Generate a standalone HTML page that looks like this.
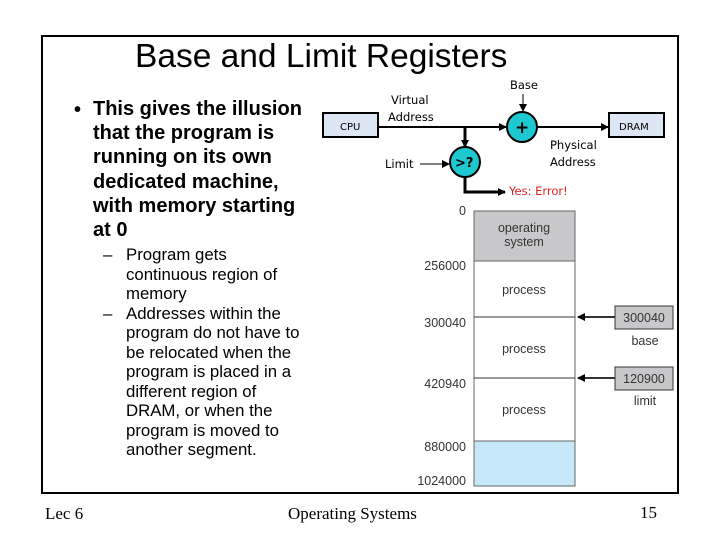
<!DOCTYPE html>
<html><head><style>
body{margin:0;width:720px;height:540px;background:#fff;position:relative;overflow:hidden;font-family:"Liberation Sans",sans-serif}
.a{position:absolute;white-space:nowrap}
</style></head><body>
<div class="a" style="left:41px;top:35px;width:634px;height:455px;border:2px solid #000"></div>
<div class="a" style="left:135px;top:38px;font-size:33.5px">Base and Limit Registers</div>
<div class="a" style="left:74px;top:99px;font-size:20px;font-weight:bold">•</div>
<div class="a" style="left:93px;top:97px;font-size:20px;font-weight:bold;line-height:24.2px">This gives the illusion<br>that the program is<br>running on its own<br>dedicated machine,<br>with memory starting<br>at 0</div>
<div class="a" style="left:103px;top:245px;font-size:16.8px;line-height:19.5px">–<br><br><br>–</div>
<div class="a" style="left:126px;top:245px;font-size:16.8px;line-height:19.5px">Program gets<br>continuous region of<br>memory<br>Addresses within the<br>program do not have to<br>be relocated when the<br>program is placed in a<br>different region of<br>DRAM, or when the<br>program is moved to<br>another segment.</div>
<div class="a" style="left:45px;top:504px;font-family:'Liberation Serif',serif;font-size:17px">Lec 6</div>
<div class="a" style="left:288px;top:504px;font-family:'Liberation Serif',serif;font-size:17px">Operating Systems</div>
<div class="a" style="left:640px;top:503px;font-family:'Liberation Serif',serif;font-size:17px">15</div>
<svg class="a" style="left:0;top:0" width="720" height="540">
<defs><marker id="m" markerWidth="8" markerHeight="8" refX="7" refY="4" orient="auto" markerUnits="userSpaceOnUse"><path d="M0,0L8,4L0,8z"/></marker></defs>
<g font-family="DejaVu Sans,sans-serif" font-size="11.5">
<rect x="323" y="113" width="55" height="24" fill="#dde6f4" stroke="#000" stroke-width="2"/>
<text x="340" y="130" font-size="10">CPU</text>
<rect x="609" y="113" width="55" height="24" fill="#dde6f4" stroke="#000" stroke-width="2"/>
<text x="619" y="130" font-size="10">DRAM</text>
<line x1="378" y1="127" x2="506" y2="127" stroke="#000" stroke-width="2" marker-end="url(#m)"/>
<line x1="537" y1="127" x2="608" y2="127" stroke="#000" stroke-width="2" marker-end="url(#m)"/>
<circle cx="522" cy="127" r="15" fill="#1ec8d0" stroke="#000" stroke-width="2"/>
<text x="515" y="133" font-size="17" font-weight="bold">+</text>
<text x="510" y="89">Base</text>
<line x1="523" y1="94" x2="523" y2="111" stroke="#000" stroke-width="1" marker-end="url(#m)"/>
<text x="391" y="104">Virtual</text>
<text x="388" y="121">Address</text>
<line x1="465" y1="127" x2="465" y2="147" stroke="#000" stroke-width="3" marker-end="url(#m)"/>
<circle cx="465" cy="162" r="15" fill="#1ec8d0" stroke="#000" stroke-width="2"/>
<text x="455" y="167" font-size="13" font-weight="bold">&gt;?</text>
<text x="385" y="168">Limit</text>
<line x1="420" y1="164" x2="449" y2="164" stroke="#000" stroke-width="1" marker-end="url(#m)"/>
<polyline points="465,177 465,192 505,192" fill="none" stroke="#000" stroke-width="3" marker-end="url(#m)"/>
<text x="509" y="195" fill="#e02020">Yes: Error!</text>
<text x="550" y="149">Physical</text>
<text x="550" y="166">Address</text>
</g>
<g font-family="Liberation Sans,sans-serif" font-size="12.5" fill="#333">
<rect x="474" y="211" width="101" height="50" fill="#c8c8ca"/>
<rect x="474" y="441" width="101" height="45" fill="#c6e8f8"/>
<rect x="474" y="211" width="101" height="275" fill="none" stroke="#666" stroke-width="1"/>
<line x1="474" y1="261" x2="575" y2="261" stroke="#666"/>
<line x1="474" y1="317" x2="575" y2="317" stroke="#333"/>
<line x1="474" y1="378" x2="575" y2="378" stroke="#333"/>
<line x1="474" y1="441" x2="575" y2="441" stroke="#666"/>
<text x="524" y="232" text-anchor="middle">operating</text>
<text x="524" y="246" text-anchor="middle">system</text>
<text x="524" y="294" text-anchor="middle">process</text>
<text x="524" y="353" text-anchor="middle">process</text>
<text x="524" y="414" text-anchor="middle">process</text>
<g text-anchor="end"><text x="466" y="215">0</text><text x="466" y="270">256000</text><text x="466" y="327">300040</text><text x="466" y="388">420940</text><text x="466" y="451">880000</text><text x="466" y="485">1024000</text></g>
<rect x="615" y="306" width="58" height="23" fill="#c8c8ca" stroke="#333"/>
<text x="644" y="322" text-anchor="middle">300040</text>
<text x="645" y="345" text-anchor="middle">base</text>
<rect x="615" y="367" width="58" height="23" fill="#c8c8ca" stroke="#333"/>
<text x="644" y="383" text-anchor="middle">120900</text>
<text x="645" y="405" text-anchor="middle">limit</text>
<line x1="615" y1="317" x2="578" y2="317" stroke="#333" stroke-width="2" marker-end="url(#m)"/>
<line x1="615" y1="378" x2="578" y2="378" stroke="#333" stroke-width="2" marker-end="url(#m)"/>
</g>
</svg>
</body></html>
